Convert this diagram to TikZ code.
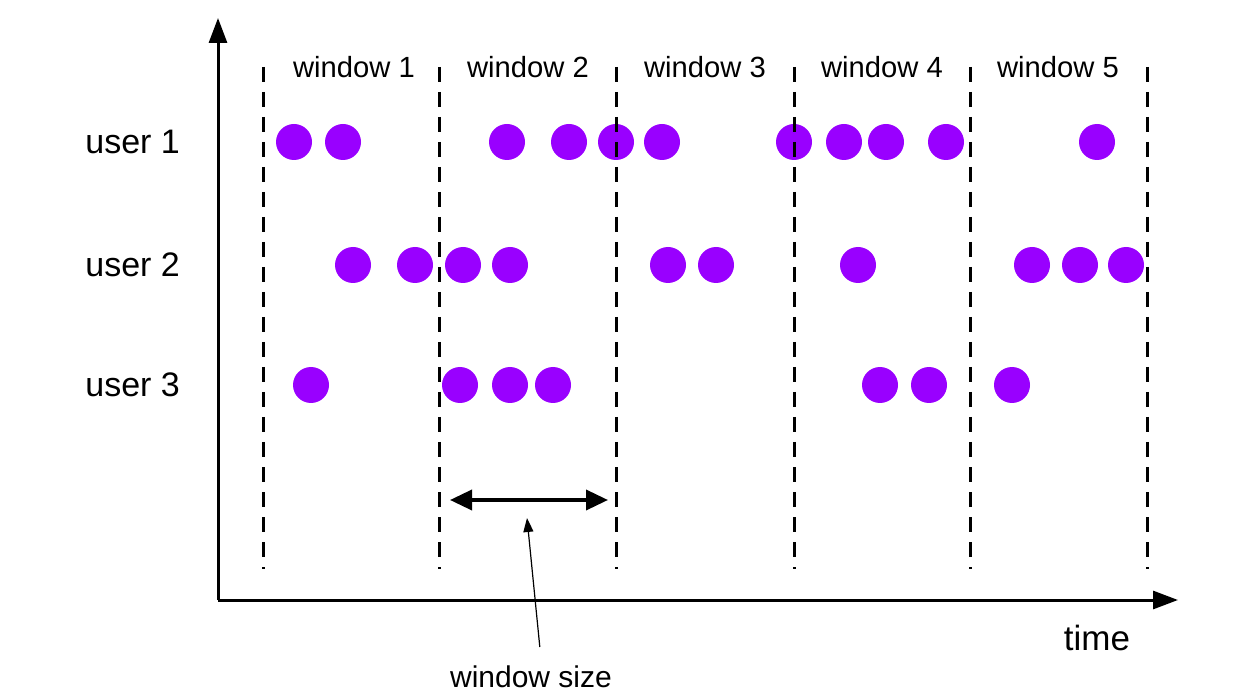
\documentclass[tikz,border=0pt]{standalone}
\usepackage{fontspec}
\setmainfont{Liberation Sans}
\usetikzlibrary{arrows.meta,positioning}
\definecolor{eventpurple}{HTML}{9900FF}
\tikzset{
  event/.style={
    circle,
    fill=eventpurple,
    inner sep=0pt,
    minimum size=18pt
  },
  boundary/.style={
    dash pattern=on 7.5pt off 5pt,
    line width=1.5pt
  },
  axis/.style={
    line width=1.5pt,
    -{Triangle[length=12.5pt,width=9pt]}
  },
  size arrow/.style={
    line width=1.8pt,
    {Triangle[length=11pt,width=10pt]}-{Triangle[length=11pt,width=10pt]}
  },
  pointer/.style={
    line width=0.6pt,
    -{Triangle[length=7pt,width=5pt]}
  },
  user label/.style={
    anchor=west,
    inner sep=0pt,
    font=\fontsize{17}{20}\selectfont
  },
  window label/.style={
    inner sep=0pt,
    font=\fontsize{14.6}{17}\selectfont
  }
}

\begin{document}
\begin{tikzpicture}[x=0.5pt, y=-0.5pt]
   \useasboundingbox (0,0) rectangle (1254,700);

   % axes
   \coordinate (origin) at (218,600);
   \coordinate (ytop) at (218,18);
   \coordinate (xend) at (1178,600);
   \draw[axis] (origin) -- (ytop);
   \draw[axis] (origin) -- (xend);
   \node[font=\fontsize{17.5}{20}\selectfont] (time) at (1097,638) {time};

   % users
   \node[user label] (user1) at (85,142) {user 1};
   \node[user label] (user2) at (85,265) {user 2};
   \node[user label] (user3) at (85,385) {user 3};

   % events
   \foreach \x [count=\i] in {294,343,507,569,616,662,794,844,886,946,1097}
      \node[event] (ua\i) at (\x,142) {};
   \foreach \x [count=\i] in {353,415,463,510,668,716,858,1032,1080,1126}
      \node[event] (ub\i) at (\x,265) {};
   \foreach \x [count=\i] in {311,460,510,553,880,929,1012}
      \node[event] (uc\i) at (\x,385) {};

   % window boundaries
   \foreach \x [count=\i] in {263,439,616,794,970,1147} {
      \coordinate (top\i) at (\x,67);
      \coordinate (bot\i) at (\x,569);
      \draw[boundary] (top\i) -- (bot\i);
   }
   \foreach \x [count=\i] in {354,528,705,882,1058}
      \node[window label] (win\i) at (\x,67) {window \i};

   % window size
   \coordinate (wsl) at (450,500);
   \coordinate (wsr) at (608,500);
   \draw[size arrow] (wsl) -- (wsr);
   \node[font=\fontsize{15}{18}\selectfont] (wsize) at (531,677) {window size};
   \coordinate (wstip) at (527,518);
   \draw[pointer, shorten <=6pt] ([xshift=5pt]wsize.north) -- (wstip);
\end{tikzpicture}
\end{document}
